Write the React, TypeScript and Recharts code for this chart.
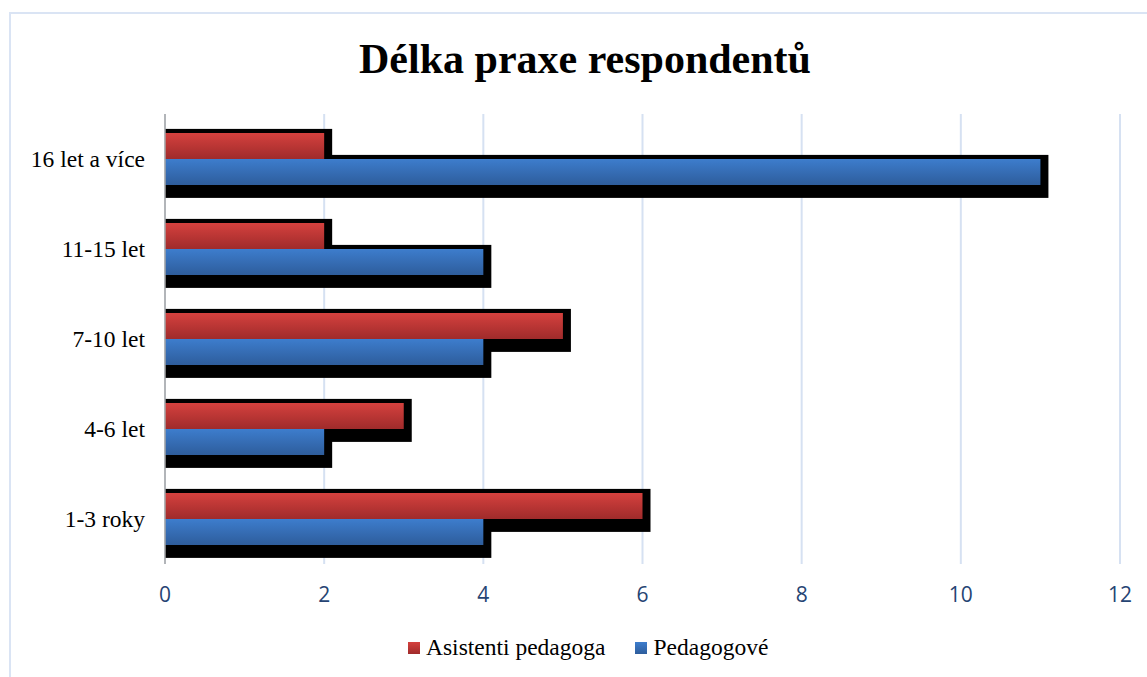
import { BarChart, Bar, XAxis, YAxis, CartesianGrid } from 'recharts';

const categories = ['16 let a více', '11-15 let', '7-10 let', '4-6 let', '1-3 roky'];
const asistenti = [2, 2, 5, 3, 6];
const pedagogove = [11, 4, 4, 2, 4];
const xTicks = [0, 2, 4, 6, 8, 10, 12];

const series = [
  { key: 'asistenti', name: 'Asistenti pedagoga', top: '#d5413e', bottom: '#a02b2b' },
  { key: 'pedagogove', name: 'Pedagogové', top: '#3d7dcd', bottom: '#2e5d9c' },
];

const data = categories.map((c, i) => ({
  category: c,
  asistenti: asistenti[i],
  pedagogove: pedagogove[i],
}));

const W = 1147;
const H = 677;
const serif = '"Liberation Serif", "Times New Roman", serif';

// black drop shadow behind each bar
function ShadowShape(props: any) {
  const { x, y, width, height } = props;
  return <rect x={x} y={y - 4} width={width + 8} height={height + 17} fill="#000" />;
}

function Chart({ layer }: { layer: 'shadow' | 'bars' }) {
  const showText = layer === 'bars';
  return (
    <BarChart
      width={W}
      height={H}
      data={data}
      layout="vertical"
      margin={{ top: 114, right: 27, bottom: 73, left: 0 }}
      barCategoryGap="21%"
      barGap={0}
    >
      {layer === 'bars' && (
        <defs>
          {series.map((s) => (
            <linearGradient key={s.key} id={`grad-${s.key}`} x1="0" y1="0" x2="0" y2="1">
              <stop offset="0%" stopColor={s.top} />
              <stop offset="100%" stopColor={s.bottom} />
            </linearGradient>
          ))}
        </defs>
      )}
      {layer === 'shadow' && (
        <CartesianGrid horizontal={false} stroke="#d6e1f2" strokeWidth={2} />
      )}
      {series.map((s) =>
        layer === 'shadow' ? (
          <Bar key={s.key} dataKey={s.key} name={s.name} shape={ShadowShape} isAnimationActive={false} />
        ) : (
          <Bar key={s.key} dataKey={s.key} name={s.name} fill={`url(#grad-${s.key})`} isAnimationActive={false} />
        )
      )}
      <XAxis
        type="number"
        domain={[0, 12]}
        ticks={xTicks}
        height={40}
        axisLine={false}
        tickLine={false}
        tickSize={0}
        tickMargin={23}
        tick={{ fill: showText ? '#264473' : 'transparent', fontSize: 21, fontFamily: '"Open Sans", sans-serif' }}
        interval={0}
      />
      <YAxis
        type="category"
        dataKey="category"
        width={165}
        axisLine={showText ? { stroke: '#a6a6a6', strokeWidth: 1.5 } : false}
        tickLine={false}
        tickSize={0}
        tickMargin={20}
        tick={{ fill: showText ? '#000' : 'transparent', fontSize: 23.5, fontFamily: serif }}
        interval={0}
      />
    </BarChart>
  );
}

export default function App() {
  return (
    <div style={{ position: 'fixed', left: 0, top: 0, width: W, height: H, overflow: 'hidden', background: '#fff' }}>
      <div
        style={{
          position: 'absolute',
          left: 9,
          top: 12,
          width: 1400,
          height: 900,
          borderLeft: '2px solid #dae4f4',
          borderTop: '2px solid #dae4f4',
        }}
      />
      <div
        style={{
          position: 'absolute',
          left: 0,
          width: 1170,
          top: 35,
          textAlign: 'center',
          fontFamily: serif,
          fontWeight: 'bold',
          fontSize: 42,
          color: '#000',
        }}
      >
        Délka praxe respondentů
      </div>
      <div style={{ position: 'absolute', left: 0, top: 0 }}>
        <Chart layer="shadow" />
      </div>
      <div style={{ position: 'absolute', left: 0, top: 0 }}>
        <Chart layer="bars" />
      </div>
      <div
        style={{
          position: 'absolute',
          left: 408,
          top: 634,
          display: 'flex',
          alignItems: 'center',
          fontFamily: serif,
          fontSize: 23.5,
          color: '#000',
        }}
      >
        {series.map((s, i) => (
          <div key={s.key} style={{ display: 'flex', alignItems: 'center', marginLeft: i === 0 ? 0 : 30 }}>
            <span
              style={{
                display: 'inline-block',
                width: 12,
                height: 12,
                background: `linear-gradient(${s.top}, ${s.bottom})`,
                marginRight: 6,
              }}
            />
            <span>{s.name}</span>
          </div>
        ))}
      </div>
    </div>
  );
}
